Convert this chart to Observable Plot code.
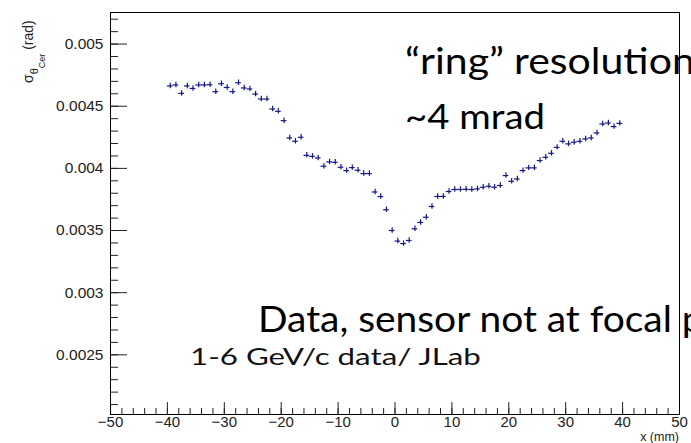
<!DOCTYPE html>
<html><head><meta charset="utf-8">
<script src="https://cdn.jsdelivr.net/npm/d3@7"></script>
<script src="https://cdn.jsdelivr.net/npm/@observablehq/plot@0.6"></script>
<style>
html,body{margin:0;padding:0;background:#fff;overflow:hidden;}
#chart{position:relative;width:691px;height:443px;overflow:hidden;}
#chart svg{overflow:hidden;}
</style></head><body><div id="chart"></div>
<script>
// bin centres (mm)
const xPos = [-39.5,-38.5,-37.5,-36.5,-35.5,-34.5,-33.5,-32.5,-31.5,-30.5,
  -29.5,-28.5,-27.5,-26.5,-25.5,-24.5,-23.5,-22.5,-21.5,-20.5,
  -19.5,-18.5,-17.5,-16.5,-15.5,-14.5,-13.5,-12.5,-11.5,-10.5,
  -9.5,-8.5,-7.5,-6.5,-5.5,-4.5,-3.5,-2.5,-1.5,-0.5,
  0.5,1.5,2.5,3.5,4.5,5.5,6.5,7.5,8.5,9.5,
  10.5,11.5,12.5,13.5,14.5,15.5,16.5,17.5,18.5,19.5,
  20.5,21.5,22.5,23.5,24.5,25.5,26.5,27.5,28.5,29.5,
  30.5,31.5,32.5,33.5,34.5,35.5,36.5,37.5,38.5,39.5];
// sigma_theta_Cer (rad)
const sigma = [0.004663,0.004671,0.004603,0.004663,0.004643,0.004671,0.004671,0.004673,0.004617,0.004681,
  0.004651,0.004617,0.004689,0.004647,0.004639,0.004598,0.004558,0.004558,0.004478,0.004459,
  0.004384,0.004245,0.004218,0.004250,0.004105,0.004097,0.004084,0.004017,0.004052,0.004049,
  0.004009,0.003982,0.004006,0.003985,0.003958,0.003958,0.003810,0.003773,0.003667,0.003500,
  0.003415,0.003395,0.003420,0.003514,0.003565,0.003607,0.003693,0.003774,0.003774,0.003814,
  0.003830,0.003830,0.003832,0.003830,0.003835,0.003848,0.003856,0.003848,0.003862,0.003942,
  0.003896,0.003915,0.003982,0.004004,0.004004,0.004063,0.004089,0.004121,0.004169,0.004218,
  0.004197,0.004210,0.004218,0.004237,0.004245,0.004285,0.004357,0.004365,0.004336,0.004362];
const binHalfWidth = 0.5;
const sigmaErr = 0.000022;

const xTicks = [-50,-40,-30,-20,-10,0,10,20,30,40,50];
const xTickLabels = ["\u221250","\u221240","\u221230","\u221220","\u221210","0","10","20","30","40","50"];
const yTicks = [0.0025,0.003,0.0035,0.004,0.0045,0.005];
const yTickLabels = ["0.0025","0.003","0.0035","0.004","0.0045","0.005"];
const xMinor = d3.range(-50, 51, 2);
const yMinor = d3.range(21, 53).map(v => v / 10000);

const xDomain = [-50, 50];
const yDomain = [0.00202, 0.005254];

const pts = xPos.map((x, i) => ({x, y: sigma[i]}));
const markColor = "#16168a";

const W = 691, H = 443;
const chart = Plot.plot({
  width: W, height: H,
  marginLeft: 110, marginRight: 12, marginTop: 12, marginBottom: 29,
  style: {fontFamily: "'Liberation Sans', Arial, sans-serif", color: "#222", background: "#fff"},
  x: {domain: xDomain},
  y: {domain: yDomain},
  marks: [
    Plot.axisY(yMinor, {anchor: "left", tickSize: -8, tickFormat: () => "", label: null}),
    Plot.axisY(yTicks, {anchor: "left", tickSize: -17, tickPadding: 24, fontSize: 15.5,
      tickFormat: d => yTickLabels[yTicks.indexOf(d)], label: null}),
    Plot.axisX(xMinor, {anchor: "bottom", tickSize: -6, tickFormat: () => "", label: null}),
    Plot.axisX(xTicks, {anchor: "bottom", tickSize: -12, tickPadding: 14, fontSize: 15,
      tickFormat: d => xTickLabels[xTicks.indexOf(d)], label: null}),
    Plot.frame({stroke: "#000", strokeWidth: 1}),
    Plot.ruleY(pts, {y: "y", x1: d => d.x - binHalfWidth, x2: d => d.x + binHalfWidth, stroke: markColor, strokeWidth: 1.2}),
    Plot.ruleX(pts, {x: "x", y1: d => d.y - sigmaErr, y2: d => d.y + sigmaErr, stroke: markColor, strokeWidth: 1.2})
  ]
});
document.getElementById("chart").appendChild(chart);
const svg = d3.select(chart);

// x axis title
svg.append("text").attr("x", 679).attr("y", 440.5).attr("text-anchor", "end")
  .attr("font-family", "'Liberation Sans', Arial, sans-serif").attr("font-size", 12.5).attr("fill", "#222")
  .text("x (mm)");

// y axis title with subscripts
const yt = svg.append("text").attr("transform", "translate(33,83) rotate(-90)").attr("text-anchor", "start")
  .attr("font-family", "'Liberation Sans', Arial, sans-serif").attr("font-size", 14).attr("fill", "#222");
yt.append("tspan").text("σ");
yt.append("tspan").attr("font-size", 11).attr("dy", 5).text("θ");
yt.append("tspan").attr("font-size", 9).attr("dy", 7).text("Cer");
yt.append("tspan").attr("dy", -12).text(" (rad)");

// slide annotations
function note(str, ref, x, y, size, width, color) {
  const g = svg.append("g").attr("transform", `translate(${x},${y})`);
  const t = g.append("text").attr("text-anchor", "start").attr("font-family", "Lato, 'Open Sans', sans-serif")
    .attr("font-size", size).attr("fill", color).style("white-space", "pre").text(str);
  const tmp = g.append("text").attr("text-anchor", "start").attr("font-family", "Lato, 'Open Sans', sans-serif")
    .attr("font-size", size).style("white-space", "pre").text(ref);
  const w = tmp.node().getComputedTextLength();
  tmp.remove();
  t.attr("transform", `scale(${width / w},1)`);
}
note("\u201Cring\u201D resolution", "\u201Cring\u201D resolutio", 405, 74, 36, 267, "#000");
note("~4 mrad", "~4 mrad", 405, 129, 34, 140, "#000");
note("Data, sensor not at focal plane", "Data, sensor not at focal", 258, 332, 36, 414, "#000");
note("1-6 GeV/c data/ JLab", "1-6 GeV/c data/ JLab", 190, 365, 24, 291, "#111");
</script></body></html>
